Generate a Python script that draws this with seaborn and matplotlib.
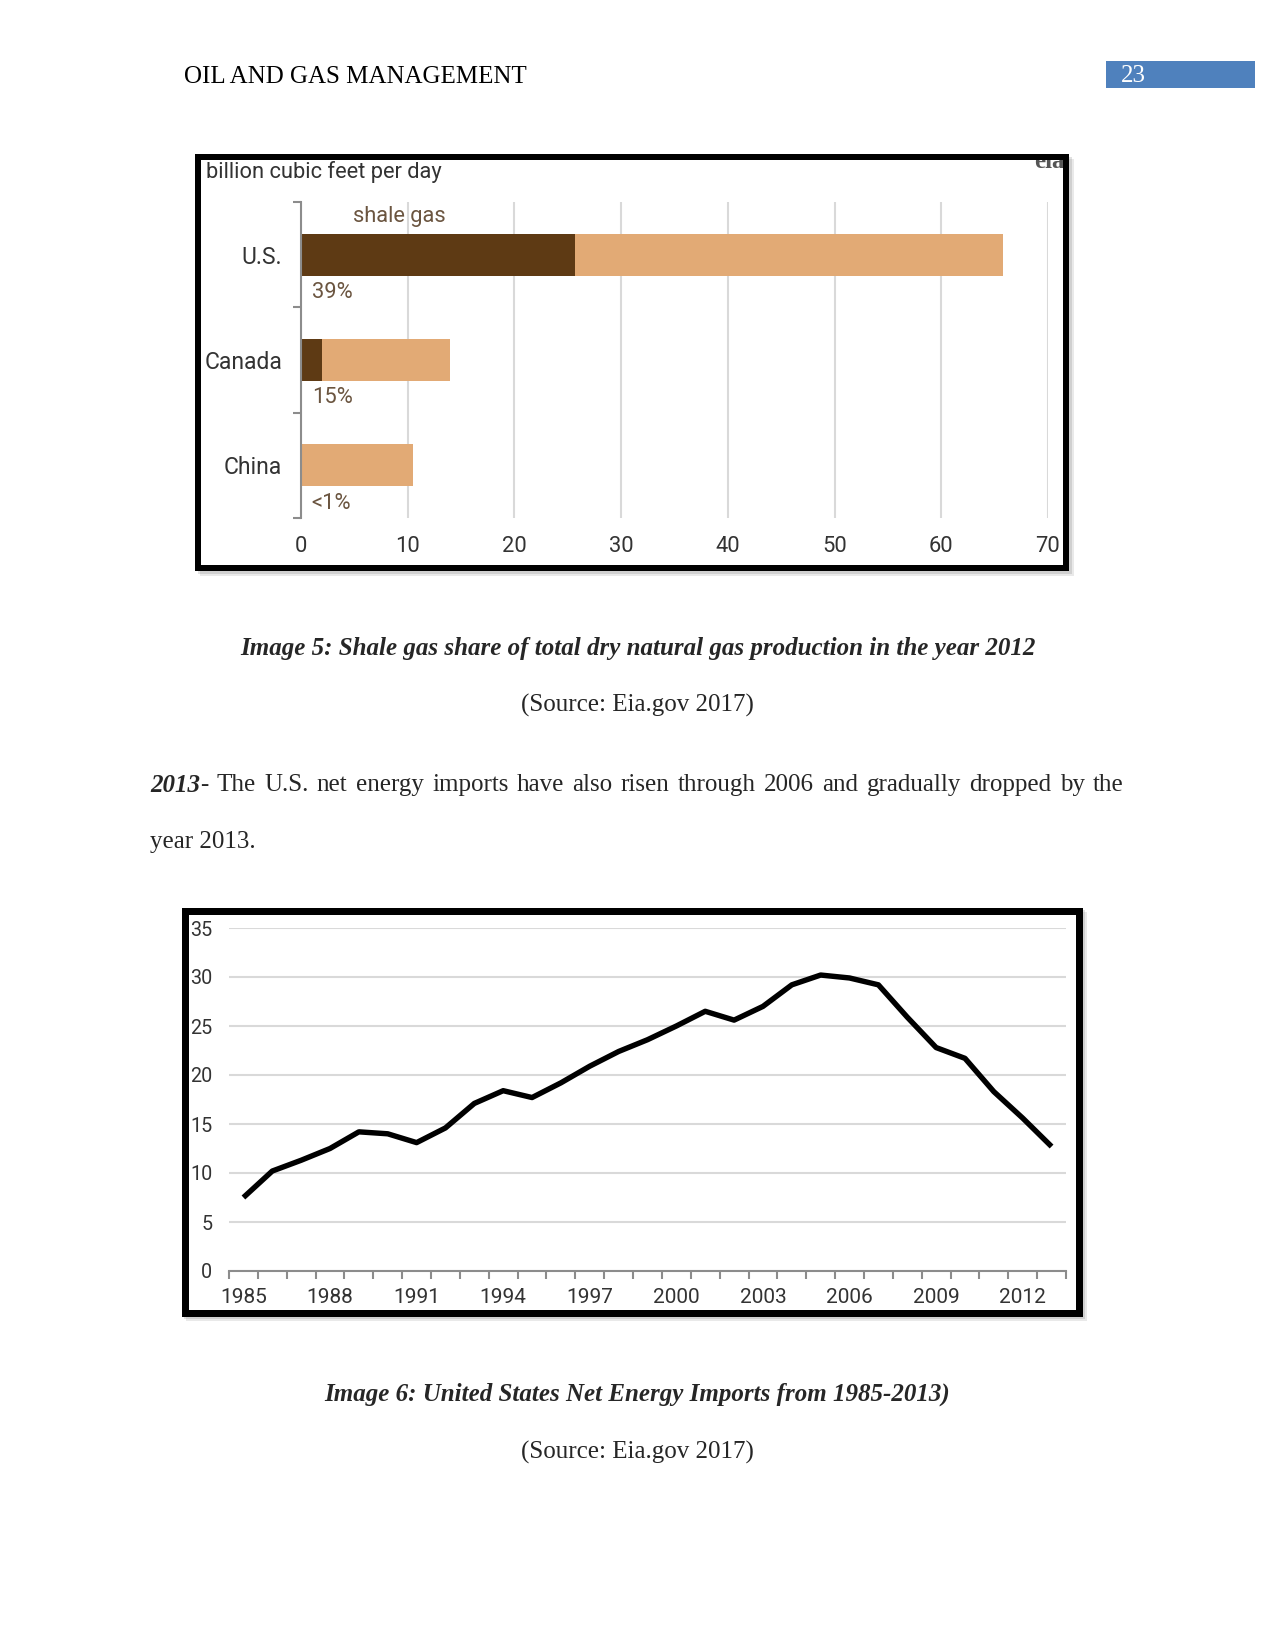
import numpy as np
import pandas as pd
import matplotlib
matplotlib.use("Agg")
import matplotlib.pyplot as plt
from matplotlib.patches import Rectangle
from matplotlib.ticker import FixedLocator
import seaborn as sns

# ---------------- data ----------------
countries = ["U.S.", "Canada", "China"]
total_gas = [65.8, 14.0, 10.5]
shale_gas = [25.7, 2.0, 0.05]
shale_share = ["39%", "15%", "<1%"]
bar_ticks = [0, 10, 20, 30, 40, 50, 60, 70]

years = list(range(1985, 2014))
net_imports = [7.5, 10.2, 11.3, 12.5, 14.2, 14.0, 13.1, 14.6, 17.1, 18.4,
               17.7, 19.2, 20.9, 22.4, 23.6, 25.0, 26.5, 25.6, 27.0, 29.2,
               30.2, 29.9, 29.2, 25.9, 22.8, 21.7, 18.3, 15.6, 12.7]
year_labels = [1985, 1988, 1991, 1994, 1997, 2000, 2003, 2006, 2009, 2012]
import_ticks = [0, 5, 10, 15, 20, 25, 30, 35]

header_text = "OIL AND GAS MANAGEMENT"
page_number = "23"
caption5 = "Image 5: Shale gas share of total dry natural gas production in the year 2012"
caption6 = "Image 6: United States Net Energy Imports from 1985-2013)"
source_text = "(Source: Eia.gov 2017)"
para_words = ["The", "U.S.", "net", "energy", "imports", "have", "also", "risen",
              "through", "2006", "and", "gradually", "dropped", "by", "the"]

# ---------------- style ----------------
sns.set_style("white")
plt.rcParams['font.family'] = ['Roboto', 'DejaVu Sans']

W, H = 1275, 1650
DPI = 150
fig = plt.figure(figsize=(W / DPI, H / DPI), dpi=DPI)
fig.patch.set_facecolor("white")

def fx(x):
    return x / W

def fy(y):
    return 1 - y / H

def axrect(l, t, r, b):
    return [l / W, 1 - b / H, (r - l) / W, (b - t) / H]

def px2pt(p):
    return p * 72 / DPI

def frame(l, t, r, b, lw_px):
    # soft shadow
    for k, a in [(5, 0.18), (3, 0.25)]:
        fig.patches.append(Rectangle((fx(l + k), fy(b + k)), (r - l) / W, (b - t) / H,
                                     transform=fig.transFigure, facecolor="#888888",
                                     edgecolor="none", alpha=a, zorder=-3))
    h = lw_px / 2
    fig.patches.append(Rectangle((fx(l + h), fy(b - h)), (r - l - lw_px) / W, (b - t - lw_px) / H,
                                 transform=fig.transFigure, facecolor="white",
                                 edgecolor="black", linewidth=px2pt(lw_px), zorder=-2))

serif = ['Liberation Serif', 'DejaVu Serif']

# ---------------- header ----------------
fig.text(fx(184), fy(77), header_text, family=serif, fontsize=12, va="center", ha="left", color="black")
fig.patches.append(Rectangle((fx(1106), fy(88)), (1255 - 1106) / W, (88 - 61) / H,
                             transform=fig.transFigure, facecolor="#4F81BD", edgecolor="none"))
fig.text(fx(1121), fy(76), page_number, family=serif, fontsize=12, va="center", ha="left", color="white")

# ---------------- bar chart ----------------
frame(195, 154, 1069, 571, 6)
brown = "#5E3A14"
tan = "#E2AA75"
txt_gray = "#333333"
brown_txt = "#6B5540"
chart_fs = 10.5

ax1 = fig.add_axes(axrect(301, 202, 1048, 518))
ax1.set_facecolor("none")
df_bar = pd.DataFrame({"country": countries, "total": total_gas, "shale": shale_gas})
sns.barplot(data=df_bar, y="country", x="total", order=countries, color=tan,
            saturation=1, width=0.4, linewidth=0, orient="h", ax=ax1, zorder=3)
sns.barplot(data=df_bar, y="country", x="shale", order=countries, color=brown,
            saturation=1, width=0.4, linewidth=0, orient="h", ax=ax1, zorder=4)
ax1.set_xlim(0, 70)
ax1.set_ylim(2.5, -0.5)
ax1.set_xlabel("")
ax1.set_ylabel("")
ax1.xaxis.set_major_locator(FixedLocator(bar_ticks))
ax1.set_xticklabels([str(t) for t in bar_ticks])
ax1.grid(axis="x", color="#d9d9d9", linewidth=1.0, zorder=0)
ax1.grid(axis="y", visible=False)
for s in ["top", "right", "bottom"]:
    ax1.spines[s].set_visible(False)
ax1.spines["left"].set_color("#8c8c8c")
ax1.spines["left"].set_linewidth(1.0)
ax1.spines["left"].set_zorder(5)
ax1.tick_params(axis="x", length=0, pad=8.5, labelsize=chart_fs, labelcolor=txt_gray)
ax1.tick_params(axis="y", which="major", length=0, pad=9, labelsize=11, labelcolor=txt_gray)
ax1.yaxis.set_minor_locator(FixedLocator([-0.5, 0.5, 1.5, 2.5]))
ax1.tick_params(axis="y", which="minor", left=True, length=4, width=1.0, color="#8c8c8c", direction="out")
for i, lab in enumerate(shale_share):
    ax1.text(1.0, i + 0.36, lab, ha="left", va="center", fontsize=chart_fs, color=brown_txt)
ax1.text(9.2, -0.36, "shale gas", ha="center", va="center", fontsize=chart_fs, color=brown_txt)
fig.text(fx(206), fy(172), "billion cubic feet per day", ha="left", va="center", fontsize=chart_fs, color=txt_gray)
logo = fig.text(fx(1034), fy(161), "eia", ha="left", va="center", fontsize=12, fontweight="bold",
                color="#555555", family=serif)
clip = Rectangle((fx(1000), fy(180)), (1063 - 1000) / W, (180 - 160) / H, transform=fig.transFigure)
logo.set_clip_path(clip)

# captions
fig.text(0.5, fy(648), caption5, family=serif, fontsize=12, fontweight="bold", fontstyle="italic",
         ha="center", va="center")
fig.text(0.5, fy(705), source_text, family=serif, fontsize=12, ha="center", va="center")

# ---------------- justified paragraph ----------------
fig.canvas.draw()
renderer = fig.canvas.get_renderer()
y_par = fy(785)
t0 = fig.text(fx(150), y_par, "2013", family=serif, fontsize=12, fontweight="bold",
              fontstyle="italic", ha="left", va="center")
w0 = t0.get_window_extent(renderer).width
t1 = fig.text(fx(150 + w0), y_par, "-", family=serif, fontsize=12, ha="left", va="center")
w1 = t1.get_window_extent(renderer).width
word_texts = []
widths = []
for wd in para_words:
    t = fig.text(0, y_par, wd, family=serif, fontsize=12, ha="left", va="center")
    word_texts.append(t)
    widths.append(t.get_window_extent(renderer).width)
left, right = 150, 1124
gap = (right - left - w0 - w1 - sum(widths)) / len(para_words)
x = left + w0 + w1 + gap
for t, w in zip(word_texts, widths):
    t.set_x(fx(x))
    x += w + gap
fig.text(fx(150), fy(842), "year 2013.", family=serif, fontsize=12, ha="left", va="center")

# ---------------- line chart ----------------
frame(181, 907, 1082, 1316, 7)
ax2 = fig.add_axes(axrect(229, 928, 1066, 1271))
ax2.set_facecolor("none")
sns.lineplot(x=years, y=net_imports, color="black", linewidth=2.6, ax=ax2,
             solid_joinstyle="round", solid_capstyle="butt", zorder=4)
ax2.set_xlim(1984.5, 2013.5)
ax2.set_ylim(0, 35)
ax2.set_xlabel("")
ax2.set_ylabel("")
ax2.yaxis.set_major_locator(FixedLocator(import_ticks))
ax2.set_yticklabels([str(t) for t in import_ticks])
ax2.xaxis.set_major_locator(FixedLocator(year_labels))
ax2.set_xticklabels([str(t) for t in year_labels])
ax2.xaxis.set_minor_locator(FixedLocator([y + 0.5 for y in range(1984, 2014)]))
ax2.grid(axis="y", color="#d9d9d9", linewidth=1.0, zorder=0)
ax2.grid(axis="x", visible=False)
for s in ["top", "right", "left"]:
    ax2.spines[s].set_visible(False)
ax2.spines["bottom"].set_color("#8c8c8c")
ax2.spines["bottom"].set_linewidth(1.0)
ax2.tick_params(axis="y", length=0, pad=8, labelsize=9.5, labelcolor=txt_gray)
ax2.tick_params(axis="x", which="major", length=0, pad=8, labelsize=10, labelcolor=txt_gray)
ax2.tick_params(axis="x", which="minor", bottom=True, length=4, width=1.0, color="#8c8c8c", direction="out")

fig.text(0.5, fy(1394), caption6, family=serif, fontsize=12, fontweight="bold", fontstyle="italic",
         ha="center", va="center")
fig.text(0.5, fy(1452), source_text, family=serif, fontsize=12, ha="center", va="center")

fig.savefig("out.png", dpi=DPI, facecolor="white")
